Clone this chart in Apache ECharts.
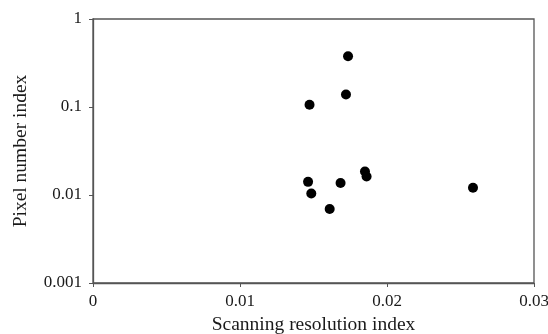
<!DOCTYPE html>
<html>
<head>
<meta charset="utf-8">
<script src="https://cdn.jsdelivr.net/npm/echarts@6/dist/echarts.min.js"></script>
<style>
html, body { margin: 0; padding: 0; background: #fff; }
#chart { width: 548px; height: 334px; }
</style>
</head>
<body>
<div id="chart"></div>
<script>
// scanning resolution index (x) vs pixel number index (y)
var resolutionIndex = [0.01735, 0.01721, 0.01473, 0.01850, 0.01861, 0.01463, 0.01684, 0.01485, 0.01610, 0.02585];
var pixelIndex      = [0.378,   0.139,   0.106,   0.0185,  0.0162,  0.0141,  0.0137,  0.0104,  0.00693, 0.0121];
var xTicks = [0, 0.01, 0.02, 0.03];
var yTicks = [0.001, 0.01, 0.1, 1];

var points = resolutionIndex.map(function (x, i) { return [x, pixelIndex[i]]; });

var font = 'Liberation Serif, Times New Roman, serif';
var axisColor = '#555';
var textColor = '#1a1a1a';

var option = {
    animation: false,
    grid: {
        left: 93, right: 14, top: 19, bottom: 51,
        outerBoundsMode: 'none',
        containLabel: false,
        show: true,
        borderColor: axisColor,
        borderWidth: 1.3
    },
    xAxis: {
        type: 'value',
        min: xTicks[0],
        max: xTicks[xTicks.length - 1],
        interval: 0.01,
        name: 'Scanning resolution index',
        nameLocation: 'middle',
        nameGap: 31,
        nameTextStyle: { fontFamily: font, fontSize: 19.5, color: textColor },
        axisLine: { lineStyle: { color: axisColor, width: 1.3 } },
        axisTick: { show: true, inside: false, length: 4, lineStyle: { color: axisColor } },
        axisLabel: { fontFamily: font, fontSize: 17, color: textColor, margin: 10,
            formatter: function (v) { return String(+v.toFixed(3)); } },
        splitLine: { show: false }
    },
    yAxis: {
        type: 'log',
        logBase: 10,
        min: yTicks[0],
        max: yTicks[yTicks.length - 1],
        name: 'Pixel number index',
        nameLocation: 'middle',
        nameGap: 62,
        nameTextStyle: { fontFamily: font, fontSize: 19.5, color: textColor },
        axisLine: { lineStyle: { color: axisColor, width: 1.3 } },
        axisTick: { show: true, inside: false, length: 4, lineStyle: { color: axisColor } },
        axisLabel: { fontFamily: font, fontSize: 17, color: textColor, margin: 11,
            formatter: function (v) { return String(+v.toPrecision(3)); } },
        splitLine: { show: false },
        minorTick: { show: false }
    },
    series: [{
        type: 'scatter',
        data: points,
        symbol: 'circle',
        symbolSize: 10,
        itemStyle: { color: '#000', opacity: 1 }
    }]
};

var chart = echarts.init(document.getElementById('chart'));
chart.setOption(option);
</script>
</body>
</html>
